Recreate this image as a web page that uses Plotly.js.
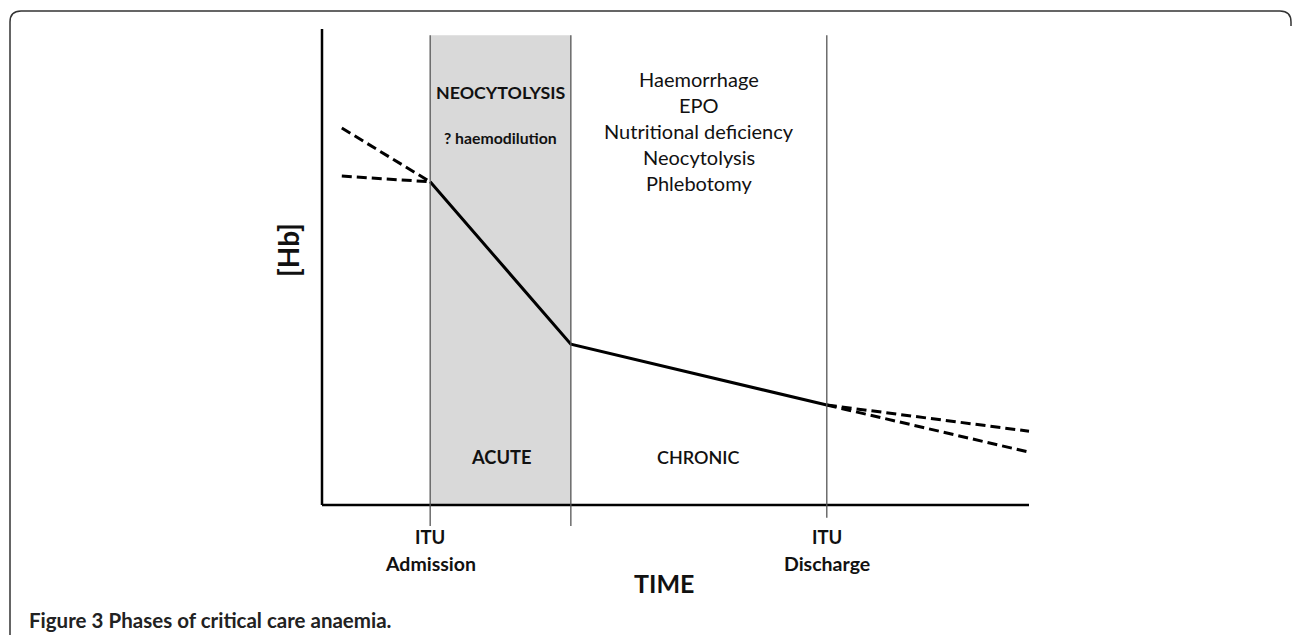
<!DOCTYPE html>
<html><head><meta charset="utf-8">
<script src="https://cdn.plot.ly/plotly-3.0.1.min.js"></script>
<style>html,body{margin:0;padding:0;background:#fff}#chart{width:1292px;height:635px}</style>
</head><body><div id="chart"></div>
<script>
// ---- data (arbitrary time units 0..100, arbitrary [Hb] units 0..100) ----
const phaseBoundaries = [15.3, 35.2, 71.4];          // ITU admission, end of acute phase, ITU discharge
const boundaryTop = [98.7, 98.7, 98.7];
const boundaryBottom = [-4.4, -4.4, -2.7];
const phaseNames = ["ACUTE", "CHRONIC"];
const boundaryLabels = [["ITU", "Admission"], null, ["ITU", "Discharge"]];
const acuteLabels = ["NEOCYTOLYSIS", "? haemodilution"];
const chronicCauses = ["Haemorrhage", "EPO", "Nutritional deficiency", "Neocytolysis", "Phlebotomy"];
const hbTime = [15.3, 35.2, 71.4];
const hbValue = [67.9, 33.8, 21.0];
const preTime = [2.8, 15.3];
const preUpper = [79.2, 67.9];
const preLower = [69.1, 67.9];
const postTime = [71.4, 100];
const postUpper = [21.0, 15.5];
const postLower = [21.0, 11.1];
const axisMax = [100, 100];

// ---- geometry ----
const W = 1292, H = 635;
const M = {l: 312, r: 253, t: 24, b: 100};
const PW = W - M.l - M.r, PH = H - M.t - M.b;
const px = v => (v - M.l) / PW;
const py = v => (M.t + PH - v) / PH;
const FONT = "Lato, 'Open Sans', sans-serif";
const INK = "#111";

const dashed = {color: "#000", width: 3, dash: "10px,5px"};
const traces = [
  {x: preTime, y: preUpper, mode: "lines", line: dashed, hoverinfo: "skip"},
  {x: preTime, y: preLower, mode: "lines", line: dashed, hoverinfo: "skip"},
  {x: postTime, y: postUpper, mode: "lines", line: dashed, hoverinfo: "skip"},
  {x: postTime, y: postLower, mode: "lines", line: dashed, hoverinfo: "skip"},
  {x: hbTime, y: hbValue, mode: "lines", line: {color: "#000", width: 3}, hoverinfo: "skip"}
];

const shapes = [
  {type: "rect", xref: "x", yref: "y", x0: phaseBoundaries[0], x1: phaseBoundaries[1], y0: 0, y1: boundaryTop[0],
   fillcolor: "#d9d9d9", line: {width: 0}, layer: "below"},
  // axes
  {type: "line", xref: "x", yref: "y", x0: 0, x1: axisMax[0], y0: 0, y1: 0, line: {color: "#000", width: 2.5}},
  {type: "line", xref: "x", yref: "y", x0: 0, x1: 0, y0: 0, y1: axisMax[1], line: {color: "#000", width: 2.5}},
  // figure border
  {type: "path", xref: "paper", yref: "paper",
   path: `M ${px(10)},${py(640)} L ${px(10)},${py(22)} Q ${px(10)},${py(11)} ${px(21)},${py(11)} L ${px(1280)},${py(11)} Q ${px(1291)},${py(11)} ${px(1291)},${py(22)} L ${px(1291)},${py(26)}`,
   line: {color: "#333", width: 1.5}}
];
phaseBoundaries.forEach((b, i) => {
  shapes.push({type: "line", xref: "x", yref: "y", x0: b, x1: b, y0: boundaryBottom[i], y1: boundaryTop[i],
    line: {color: "#555", width: 1.3}, layer: "above"});
});

const ann = [];
const txt = (o) => ann.push(Object.assign({showarrow: false, xanchor: "center", yanchor: "middle",
  font: {family: FONT, color: INK, size: 16}}, o));

const acuteMid = (phaseBoundaries[0] + phaseBoundaries[1]) / 2;
const chronicMid = (phaseBoundaries[1] + phaseBoundaries[2]) / 2;
txt({xref: "x", yref: "paper", x: acuteMid, y: py(92), text: "<b>" + acuteLabels[0] + "</b>",
  font: {family: FONT, color: INK, size: 17.8}});
txt({xref: "x", yref: "paper", x: acuteMid, y: py(137), text: "<b>" + acuteLabels[1] + "</b>",
  font: {family: FONT, color: INK, size: 15.8}});
chronicCauses.forEach((c, i) => {
  txt({xref: "x", yref: "paper", x: chronicMid, y: py(79 + 26 * i), text: c,
    font: {family: FONT, color: INK, size: 20}});
});
txt({xref: "x", yref: "paper", x: acuteMid, y: py(457), text: "<b>" + phaseNames[0] + "</b>",
  font: {family: FONT, color: INK, size: 18.3}});
txt({xref: "x", yref: "paper", x: chronicMid, y: py(457), text: phaseNames[1],
  font: {family: FONT, color: INK, size: 18, weight: 600}});
boundaryLabels.forEach((lab, i) => {
  if (!lab) return;
  txt({xref: "x", yref: "paper", x: phaseBoundaries[i], y: py(537), text: "<b>" + lab[0] + "</b>",
    font: {family: FONT, color: INK, size: 18.5}});
  txt({xref: "x", yref: "paper", x: phaseBoundaries[i], y: py(563), text: "<b>" + lab[1] + "</b>",
    font: {family: FONT, color: INK, size: 19.5}});
});
txt({xref: "paper", yref: "paper", x: px(664), y: py(583), text: "<b>TIME</b>",
  font: {family: FONT, color: INK, size: 25}});
txt({xref: "paper", yref: "paper", x: px(288), y: py(250), text: "<b>[Hb]</b>", textangle: -90,
  font: {family: FONT, color: INK, size: 28}});
txt({xref: "paper", yref: "paper", x: px(27), y: py(620), xanchor: "left",
  text: "<b>Figure 3</b> <b>Phases of critical care anaemia.</b>",
  font: {family: FONT, color: "#222", size: 20.5}});

const xr = [-(322 - M.l) / 7.07, 100 + (M.l + PW - 1029) / 7.07];
const yr = [-(M.t + PH - 505) / 4.76, 100 + (29 - M.t) / 4.76];

const layout = {
  width: W, height: H, margin: M, showlegend: false,
  paper_bgcolor: "#fff", plot_bgcolor: "rgba(0,0,0,0)",
  xaxis: {range: xr, visible: false, fixedrange: true},
  yaxis: {range: yr, visible: false, fixedrange: true},
  shapes: shapes, annotations: ann
};
Plotly.newPlot("chart", traces, layout, {displayModeBar: false, staticPlot: true});
</script></body></html>
